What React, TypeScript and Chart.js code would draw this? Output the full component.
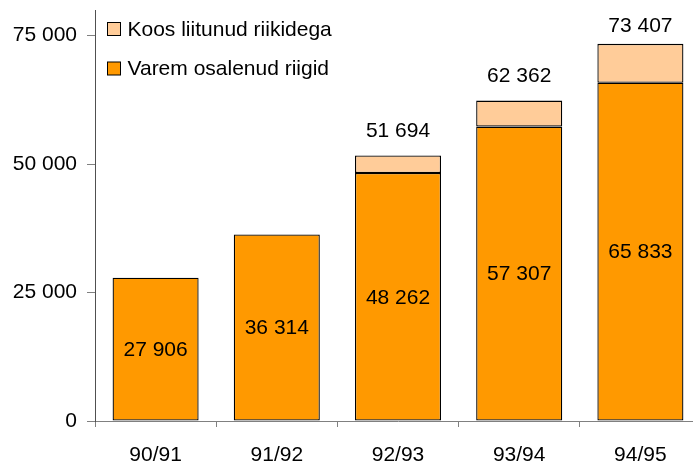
import React, { useEffect, useRef } from "react";
import { Chart, registerables } from "chart.js";

Chart.register(...registerables);

const categories = ["90/91", "91/92", "92/93", "93/94", "94/95"];
const varemOsalenud = [27906, 36314, 48262, 57307, 65833];
const koosLiitunud = [null, null, 3432, 5055, 7574];
const yTicks = [0, 25000, 50000, 75000];

const FONT = "'Liberation Sans', Arial, sans-serif";
const fmt = (v: number) => String(v).replace(/\B(?=(\d{3})+(?!\d))/g, " ");

const labelPlugin = {
  id: "customLabels",
  afterDatasetsDraw(chart: any) {
    const ctx = chart.ctx;
    const area = chart.chartArea;
    ctx.save();
    ctx.font = `21px ${FONT}`;
    ctx.fillStyle = "#000";
    ctx.textAlign = "center";
    ctx.textBaseline = "middle";
    const m0 = chart.getDatasetMeta(0);
    const m1 = chart.getDatasetMeta(1);
    m0.data.forEach((bar: any, i: number) => {
      ctx.fillText(fmt(varemOsalenud[i]), bar.x, (bar.y + bar.base) / 2 + 1);
    });
    m1.data.forEach((bar: any, i: number) => {
      const k = koosLiitunud[i];
      if (k == null) return;
      const total = varemOsalenud[i] + k;
      const y = Math.max(bar.y - 24, area.top + 16);
      ctx.fillText(fmt(total), bar.x, y);
    });
    // legend inside plot
    const items = [chart.data.datasets[1], chart.data.datasets[0]];
    ctx.textAlign = "left";
    items.forEach((ds: any, j: number) => {
      const bx = area.left + 12.5;
      const by = 22.5 + j * 39.5;
      ctx.fillStyle = ds.backgroundColor;
      ctx.fillRect(bx, by, 13, 13);
      ctx.strokeStyle = "#000";
      ctx.lineWidth = 1;
      ctx.strokeRect(bx, by, 13, 13);
      ctx.fillStyle = "#000";
      ctx.fillText(ds.label, area.left + 32.5, by + 7.5);
    });
    ctx.restore();
  },
};

export default function App() {
  const ref = useRef<HTMLCanvasElement>(null);
  useEffect(() => {
    if (!ref.current) return;
    const chart = new Chart(ref.current, {
      type: "bar",
      data: {
        labels: categories,
        datasets: [
          {
            label: "Varem osalenud riigid",
            data: varemOsalenud,
            backgroundColor: "#FF9900",
            borderColor: "#000",
            borderWidth: 1.3,
            borderSkipped: false,
            barPercentage: 0.71,
            categoryPercentage: 1,
          },
          {
            label: "Koos liitunud riikidega",
            data: koosLiitunud as any,
            backgroundColor: "#FFCC99",
            borderColor: "#000",
            borderWidth: 1.3,
            borderSkipped: false,
            barPercentage: 0.71,
            categoryPercentage: 1,
          },
        ],
      },
      options: {
        animation: false,
        responsive: false,
        maintainAspectRatio: false,
        layout: { padding: { left: 0, right: 4, top: 10, bottom: 0 } },
        plugins: { legend: { display: false }, tooltip: { enabled: false } },
        scales: {
          x: {
            stacked: true,
            grid: {
              display: true,
              drawOnChartArea: false,
              drawTicks: true,
              tickLength: 6,
              offset: true,
              color: "#808080",
            },
            border: { display: true, color: "#808080", width: 1 },
            ticks: { color: "#000", font: { family: FONT, size: 21 }, padding: 16 },
            afterFit: (s: any) => {
              s.height = 42;
              s.paddingLeft = 0;
              s.paddingRight = 0;
            },
          },
          y: {
            stacked: true,
            min: 0,
            max: 80000,
            afterBuildTicks: (s: any) => {
              s.ticks = yTicks.map((v) => ({ value: v }));
            },
            grid: {
              display: true,
              drawOnChartArea: false,
              drawTicks: true,
              tickLength: 8,
              color: "#808080",
            },
            border: { display: true, color: "#505050", width: 1 },
            ticks: {
              color: "#000",
              font: { family: FONT, size: 21 },
              padding: 10,
              callback: (v: any) => fmt(Number(v)),
            },
            afterFit: (s: any) => {
              s.width = 95;
              s.paddingTop = 0;
              s.paddingBottom = 0;
            },
          },
        },
      },
      plugins: [labelPlugin],
    });
    return () => chart.destroy();
  }, []);
  return (
    <div
      style={{
        position: "fixed",
        left: 0,
        top: 0,
        width: 693,
        height: 463,
        overflow: "hidden",
        background: "#fff",
      }}
    >
      <canvas ref={ref} width={705} height={463} style={{ display: "block" }} />
    </div>
  );
}
